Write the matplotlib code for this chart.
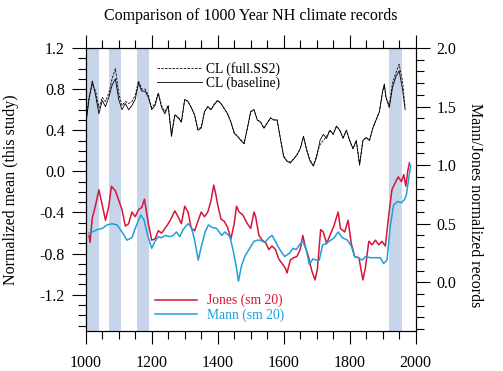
import matplotlib
matplotlib.use("Agg")
import matplotlib.pyplot as plt
from matplotlib.ticker import MultipleLocator, FormatStrFormatter
from matplotlib.lines import Line2D

plt.rcParams['font.family'] = ['Liberation Serif', 'DejaVu Serif']
plt.rcParams['axes.unicode_minus'] = False

# CL reconstruction (left axis)
cl_years = [1000, 1010, 1020, 1030, 1040, 1050, 1060, 1070, 1080, 1090,
            1100, 1110, 1120, 1130, 1140, 1150, 1160, 1170, 1180, 1190,
            1200, 1210, 1220, 1230, 1240, 1250, 1260, 1270, 1280, 1290,
            1300, 1310, 1320, 1330, 1340, 1350, 1360, 1370, 1380, 1390,
            1400, 1410, 1420, 1430, 1440, 1450, 1460, 1470, 1480, 1490,
            1500, 1510, 1520, 1530, 1540, 1550, 1560, 1570, 1580, 1590,
            1600, 1610, 1620, 1630, 1640, 1650, 1660, 1670, 1680, 1690,
            1700, 1710, 1720, 1730, 1740, 1750, 1760, 1770, 1780, 1790,
            1800, 1810, 1820, 1830, 1840, 1850, 1860, 1870, 1880, 1890,
            1900, 1905, 1910, 1920, 1930, 1940, 1950, 1960, 1968]
cl_base = [0.45, 0.70, 0.88, 0.74, 0.56, 0.69, 0.63, 0.72, 0.84, 0.90,
           0.70, 0.60, 0.66, 0.60, 0.64, 0.70, 0.86, 0.78, 0.78, 0.72,
           0.60, 0.64, 0.76, 0.62, 0.56, 0.64, 0.34, 0.55, 0.52, 0.48,
           0.70, 0.68, 0.62, 0.55, 0.40, 0.42, 0.58, 0.63, 0.60, 0.65,
           0.69, 0.66, 0.61, 0.56, 0.48, 0.37, 0.34, 0.30, 0.27, 0.42,
           0.58, 0.60, 0.50, 0.48, 0.42, 0.47, 0.52, 0.50, 0.50, 0.32,
           0.14, 0.10, 0.08, 0.12, 0.16, 0.22, 0.34, 0.20, 0.10, 0.05,
           0.14, 0.30, 0.36, 0.32, 0.40, 0.36, 0.44, 0.40, 0.32, 0.40,
           0.30, 0.22, 0.30, 0.06, 0.30, 0.33, 0.30, 0.42, 0.50, 0.58,
           0.78, 0.85, 0.72, 0.62, 0.82, 0.92, 0.98, 0.80, 0.60]
cl_full = [0.47, 0.72, 0.85, 0.78, 0.62, 0.72, 0.68, 0.76, 0.90, 1.00,
           0.76, 0.64, 0.68, 0.66, 0.68, 0.74, 0.88, 0.80, 0.80, 0.74,
           0.62, 0.66, 0.76, 0.64, 0.58, 0.64, 0.36, 0.55, 0.53, 0.48,
           0.70, 0.68, 0.62, 0.55, 0.41, 0.43, 0.58, 0.63, 0.60, 0.66,
           0.69, 0.66, 0.61, 0.56, 0.48, 0.38, 0.34, 0.31, 0.27, 0.42,
           0.58, 0.60, 0.50, 0.48, 0.42, 0.47, 0.52, 0.50, 0.50, 0.32,
           0.15, 0.10, 0.09, 0.12, 0.16, 0.22, 0.34, 0.21, 0.11, 0.06,
           0.16, 0.26, 0.30, 0.34, 0.40, 0.36, 0.44, 0.40, 0.33, 0.40,
           0.30, 0.22, 0.30, 0.07, 0.30, 0.33, 0.30, 0.42, 0.50, 0.58,
           0.78, 0.84, 0.72, 0.64, 0.86, 0.96, 1.04, 0.88, 0.62]

# Jones and Mann (right axis)
jones_years = [1010, 1013, 1020, 1030, 1040, 1050, 1060, 1070, 1078, 1090,
               1100, 1110, 1120, 1130, 1140, 1150, 1160, 1170, 1178, 1190,
               1200, 1210, 1220, 1230, 1240, 1250, 1260, 1270, 1280, 1290,
               1300, 1310, 1320, 1330, 1340, 1350, 1360, 1370, 1380, 1388,
               1395, 1400, 1410, 1420, 1430, 1440, 1450, 1457, 1465, 1475,
               1490, 1500, 1510, 1515, 1525, 1535, 1545, 1555, 1565, 1575,
               1585, 1595, 1605, 1610, 1620, 1630, 1640, 1650, 1658, 1665,
               1675, 1685, 1695, 1702, 1712, 1720, 1730, 1740, 1752, 1765,
               1772, 1785, 1795, 1805, 1815, 1828, 1840, 1848, 1858, 1868,
               1878, 1888, 1898, 1908, 1918, 1928, 1938, 1947, 1957, 1964,
               1970, 1976, 1981]
jones = [0.40, 0.34, 0.55, 0.66, 0.79, 0.66, 0.53, 0.65, 0.82, 0.78,
         0.70, 0.62, 0.48, 0.50, 0.60, 0.56, 0.62, 0.64, 0.71, 0.50,
         0.36, 0.37, 0.44, 0.42, 0.46, 0.50, 0.55, 0.61, 0.56, 0.50,
         0.65, 0.60, 0.46, 0.44, 0.52, 0.60, 0.56, 0.60, 0.70, 0.83,
         0.74, 0.66, 0.54, 0.52, 0.47, 0.37, 0.50, 0.65, 0.60, 0.58,
         0.50, 0.46, 0.60, 0.56, 0.40, 0.36, 0.34, 0.28, 0.31, 0.28,
         0.20, 0.16, 0.12, 0.08, 0.19, 0.21, 0.22, 0.28, 0.40, 0.31,
         0.22, 0.10, 0.02, 0.11, 0.45, 0.43, 0.33, 0.40, 0.48, 0.60,
         0.46, 0.43, 0.53, 0.33, 0.22, 0.21, 0.02, 0.13, 0.35, 0.32,
         0.36, 0.32, 0.35, 0.31, 0.56, 0.79, 0.85, 0.90, 0.86, 0.92,
         0.82, 0.95, 1.02]

mann_years = [1010, 1020, 1035, 1050, 1065, 1080, 1095, 1110, 1125, 1140,
              1150, 1160, 1167, 1177, 1188, 1200, 1210, 1220, 1230, 1240,
              1255, 1265, 1275, 1285, 1295, 1310, 1320, 1330, 1341, 1350,
              1362, 1372, 1382, 1397, 1412, 1422, 1437, 1447, 1457, 1463,
              1472, 1482, 1497, 1510, 1520, 1528, 1543, 1555, 1565, 1575,
              1588, 1603, 1618, 1628, 1638, 1648, 1658, 1668, 1678, 1688,
              1698, 1708, 1718, 1728, 1738, 1753, 1765, 1778, 1793, 1805,
              1815, 1825, 1838, 1848, 1863, 1878, 1893, 1903, 1913, 1923,
              1933, 1945, 1957, 1967, 1972, 1981, 1985]
mann = [0.42, 0.43, 0.45, 0.46, 0.49, 0.50, 0.49, 0.43, 0.36, 0.38,
        0.46, 0.53, 0.575, 0.53, 0.40, 0.29, 0.35, 0.39, 0.38, 0.40,
        0.39, 0.40, 0.43, 0.39, 0.45, 0.50, 0.47, 0.36, 0.19, 0.30,
        0.43, 0.49, 0.47, 0.46, 0.40, 0.43, 0.39, 0.27, 0.12, 0.01,
        0.14, 0.22, 0.29, 0.35, 0.36, 0.36, 0.34, 0.38, 0.40, 0.35,
        0.28, 0.22, 0.25, 0.29, 0.28, 0.32, 0.35, 0.28, 0.15, 0.20,
        0.19, 0.19, 0.32, 0.33, 0.35, 0.38, 0.43, 0.38, 0.36, 0.31,
        0.22, 0.21, 0.19, 0.22, 0.21, 0.21, 0.21, 0.16, 0.19, 0.48,
        0.66, 0.69, 0.68, 0.71, 0.75, 0.93, 1.00]

# shaded periods
bands = [(1000, 1040), (1071, 1107), (1155, 1191), (1920, 1958)]

fig = plt.figure(figsize=(5.03, 3.71), dpi=100)
ax = fig.add_axes([0.1704, 0.1086, 0.656, 0.762])
ax2 = ax.twinx()

for b0, b1 in bands:
    ax.axvspan(b0, b1, color='#c6d5ea', lw=0, zorder=0)

ax.plot(cl_years, cl_full, color='black', lw=0.6, ls=(0, (3, 1.5)), zorder=2)
ax.plot(cl_years, cl_base, color='black', lw=0.6, zorder=3)

ax2.plot(jones_years, jones, color='#d6163a', lw=1.1)
ax2.plot(mann_years, mann, color='#1ea0dc', lw=1.1)

ax.set_xlim(1000, 2000)
ax.set_ylim(-1.55, 1.2)
ax2.set_ylim(-0.413, 2.0)

ax.xaxis.set_major_locator(MultipleLocator(200))
ax.xaxis.set_minor_locator(MultipleLocator(50))
ax.yaxis.set_major_locator(MultipleLocator(0.4))
ax.yaxis.set_minor_locator(MultipleLocator(0.1))
ax2.yaxis.set_major_locator(MultipleLocator(0.5))
ax2.yaxis.set_minor_locator(MultipleLocator(0.1))
ax.yaxis.set_major_formatter(FormatStrFormatter('%.1f'))
ax2.yaxis.set_major_formatter(FormatStrFormatter('%.1f'))

ax.tick_params(which='both', direction='out', top=True, right=False, labelsize=11.5, width=0.8)
ax.tick_params(which='major', length=10, pad=5)
ax.tick_params(which='minor', length=6)
ax.tick_params(axis='x', which='major', length=9.5, pad=8)
ax2.tick_params(which='both', direction='out', labelsize=11.5, width=0.8)
ax2.tick_params(which='major', length=10, pad=5)
ax2.tick_params(which='minor', length=6)

for a in (ax, ax2):
    for s in a.spines.values():
        s.set_linewidth(0.8)

ax.set_ylabel('Normalized mean (this study)', fontsize=11.5)
ax.yaxis.set_label_coords(-0.203, 0.5)
ax2.set_ylabel('Mann/Jones normalized records', fontsize=11.5, rotation=270)
ax2.yaxis.set_label_coords(1.205, 0.445)

fig.text(0.4985, 1 - 20 / 371, 'Comparison of 1000 Year NH climate records',
         ha='center', va='baseline', fontsize=11.5)

cl_handles = [Line2D([], [], color='black', lw=0.6, ls=(0, (3, 1.5))),
              Line2D([], [], color='black', lw=0.6)]
ax.legend(cl_handles, ['CL (full.SS2)', 'CL (baseline)'],
          loc='upper left', bbox_to_anchor=(0.216, 0.952), frameon=False,
          fontsize=9.8, handlelength=3.3, handletextpad=0.3,
          labelspacing=0.1, borderpad=0, borderaxespad=0)

jm_handles = [Line2D([], [], color='#d6163a', lw=1.1),
              Line2D([], [], color='#1ea0dc', lw=1.1)]
ax2.legend(jm_handles, ['Jones (sm 20)', 'Mann (sm 20)'],
           loc='upper left', bbox_to_anchor=(0.21, 0.13), frameon=False,
           fontsize=9.8, handlelength=3.1, handletextpad=0.7,
           labelspacing=0.1, borderpad=0, borderaxespad=0,
           labelcolor=['#d6163a', '#1ea0dc'])

fig.savefig('out.png', dpi=100)
